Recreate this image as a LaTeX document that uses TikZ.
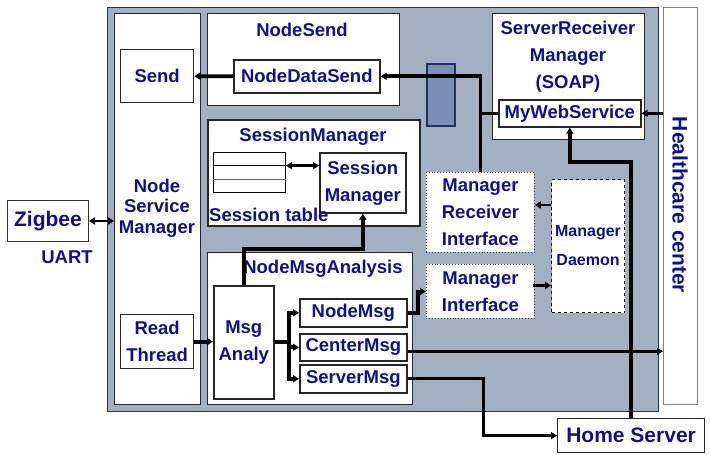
\documentclass[tikz,border=0pt]{standalone}
\usepackage{fontspec}
\setmainfont{Liberation Sans}
\usetikzlibrary{arrows.meta,calc}
\definecolor{txt}{RGB}{15,15,145}
\definecolor{bg}{RGB}{163,176,193}
\definecolor{rectborder}{RGB}{30,52,104}
\definecolor{rectfill}{RGB}{122,142,182}
\begin{document}
\begin{tikzpicture}[x=1pt,y=-1pt,
  box/.style={draw=black!85, line width=1.3pt, fill=white, inner sep=0pt, anchor=north west,
    text=txt, font=\fontsize{18.5}{27}\selectfont\bfseries, align=center},
  lbl/.style={text=txt, font=\fontsize{18.5}{27}\selectfont\bfseries, align=center, inner sep=0pt},
  biglbl/.style={text=txt, font=\fontsize{21}{25}\selectfont\bfseries, inner sep=0pt},
  conn/.style={line width=3.8pt},
  conn2/.style={line width=2.8pt},
  tip/.style={-{Triangle[length=6pt,width=7pt]}},
  dtip/.style={{Triangle[length=6pt,width=7pt]}-{Triangle[length=6pt,width=7pt]}}
]
\useasboundingbox (0,0) rectangle (710,455);
% background panels
\node[box, fill=bg, draw=black!80, line width=1pt, minimum width=551pt, minimum height=404pt] (bgbox) at (107,7) {};
\node[box, draw=black!50, line width=1pt, minimum width=34pt, minimum height=397pt] (hc) at (663,7) {};
\node[biglbl, rotate=-90] (hctext) at (680,205) {Healthcare center};

% Node Service Manager
\node[box, minimum width=86pt, minimum height=391pt] (nsm) at (114,13) {};
\node[lbl, font=\fontsize{18.5}{20.5}\selectfont\bfseries] (nsmtext) at (157,208) {Node\\Service\\Manager};
\node[box, minimum width=73pt, minimum height=53pt] (send) at (120,49) {Send};
\node[box, minimum width=73pt, minimum height=54pt] (read) at (120,314) {Read\\Thread};

% NodeSend
\node[box, minimum width=192pt, minimum height=92pt] (nodesend) at (207,13) {};
\node[lbl] (nodesendtext) at (302,30) {NodeSend};
\node[box, line width=1.6pt, minimum width=146pt, minimum height=33pt] (nds) at (233,59) {NodeDataSend};

% ServerReceiver Manager
\node[box, minimum width=152pt, minimum height=126pt] (srm) at (492,13) {};
\node[lbl] (srmtext) at (568,57) {ServerReceiver\\Manager\\(SOAP)};
\node[box, line width=1.6pt, minimum width=142pt, minimum height=27pt] (mws) at (498,99) {MyWebService};

% SessionManager
\node[box, line width=1.6pt, minimum width=212pt, minimum height=106pt] (sm) at (207,119) {};
\node[lbl] (smtext) at (313,137) {SessionManager};
\node[box, draw=black, line width=1pt, minimum width=72pt, minimum height=40pt] (table) at (213,152) {};
\draw[line width=1pt] ($(table.north west)!1/3!(table.south west)$) -- ($(table.north east)!1/3!(table.south east)$);
\draw[line width=1pt, black!60] ($(table.north west)!2/3!(table.south west)$) -- ($(table.north east)!2/3!(table.south east)$);
\node[box, line width=1.6pt, minimum width=86pt, minimum height=60pt] (smi) at (319,152) {Session\\Manager};
\node[lbl, anchor=west] (sttext) at (209,215) {Session table};

% NodeMsgAnalysis
\node[box, minimum width=205pt, minimum height=152pt] (nma) at (207,252) {};
\node[lbl] (nmatext) at (323,269) {NodeMsgAnalysis};
\node[box, line width=1.6pt, minimum width=60pt, minimum height=113pt] (msg) at (213,285) {Msg\\Analy};
\node[box, line width=1.6pt, minimum width=107pt, minimum height=28pt] (nodemsg) at (299,298) {NodeMsg};
\node[box, line width=1.6pt, minimum width=107pt, minimum height=27pt] (centermsg) at (299,333) {CenterMsg};
\node[box, line width=1.6pt, minimum width=107pt, minimum height=28pt] (servermsg) at (299,364) {ServerMsg};

% Manager interfaces
\node[box, draw=black!75, line width=0.9pt, dotted, minimum width=108pt, minimum height=80pt] (mri) at (426,172) {Manager\\Receiver\\Interface};
\node[box, draw=black!75, line width=0.9pt, dotted, minimum width=108pt, minimum height=54pt] (mi) at (426,264) {Manager\\Interface};
\node[box, draw=black, line width=1.1pt, dashed, minimum width=73pt, minimum height=133pt,
  font=\fontsize{16}{29}\selectfont\bfseries] (md) at (551,179) {Manager\\Daemon};

% external
\node[box, line width=1.2pt, minimum width=147pt, minimum height=34pt, font=\fontsize{21}{25}\selectfont\bfseries] (home) at (557,418) {Home Server};
\node[box, draw=black!80, line width=1pt, minimum width=81pt, minimum height=41pt, font=\fontsize{21}{25}\selectfont\bfseries] (zig) at (7,200) {Zigbee};
\node[lbl] (uart) at (67,257) {UART};

% blue rectangle
\node[box, draw=rectborder, fill=rectfill, line width=2pt, minimum width=28pt, minimum height=62pt] (brect) at (426,63) {};

% connectors
\draw[conn, tip] (nds.west) -- (send.east);
\draw[conn, tip] (mri.north) |- (nds.east);
\draw[conn2] (mws.west) -- (mws.west -| mri.north);
\draw[conn2, tip] (hc.west |- mws.east) -- (mws.east);
\draw[conn, tip] (home.north) |- ($(mws.south)+(0,34)$) -- (mws.south);
\draw[conn2, dtip] (zig.east) -- (zig.east -| nsm.west);
\coordinate (trow) at ($(table.north east)!1/3!(table.south east)$);
\draw[conn2, dtip] (trow) -- (trow -| smi.west);
\draw[conn, tip] (msg.north) |- ($(smi.south)+(0,35)$) -- (smi.south);
\draw[conn, tip] (read.east) -- (read.east -| msg.west);
\draw[conn] (msg.east) -- ++(14,0) coordinate (br);
\draw[conn, tip] (br) |- (nodemsg.west);
\draw[conn, tip] (br) |- (servermsg.west);
\draw[conn, tip] (br |- centermsg.west) -- (centermsg.west);
\draw[conn, tip] (nodemsg.east) -- ++(10,0) |- (mi.west);
\coordinate (mdr) at ($(md.north west)+(0,26)$);
\draw[conn2, tip] (mdr) -- (mdr -| mri.east);
\coordinate (mip) at ($(mi.east)+(-2,-6)$);
\draw[conn2, tip] (mip) -- (mip -| md.west);
\coordinate (cm) at ($(centermsg.east)+(0,4)$);
\draw[conn2, tip] (cm) -- (cm -| hc.west);
\draw[conn2, tip] (servermsg.east) -- ++(76,0) |- (home.west);
\end{tikzpicture}
\end{document}
